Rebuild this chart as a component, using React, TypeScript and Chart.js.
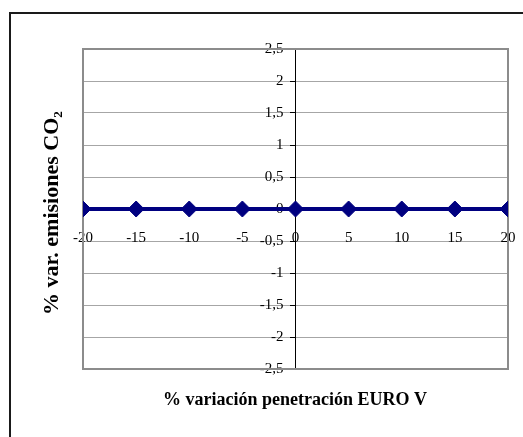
import React, { useEffect, useRef } from "react";
import { Chart, registerables } from "chart.js";

Chart.register(...registerables);

const xValues: number[] = [-20, -15, -10, -5, 0, 5, 10, 15, 20];
const yValues: number[] = [0, 0, 0, 0, 0, 0, 0, 0, 0];
const xTitle = "% variación penetración EURO V";
const yTitle = "% var. emisiones CO₂";
const yMin = -2.5;
const yMax = 2.5;
const yStep = 0.5;
const xMin = -20;
const xMax = 20;
const xStep = 5;

const SERIF = "'Liberation Serif', 'Times New Roman', serif";

// shift label items of centred axes (Chart.js puts them flush against the axis)
const LABEL_SHIFT: Record<string, [number, number]> = { x: [0, 20], y: [-12, 0] };

const decorPlugin = {
  id: "decor",
  beforeDraw(chart: any) {
    Object.keys(LABEL_SHIFT).forEach((id) => {
      const s = chart.scales[id];
      if (s && !s.__shifted) {
        const orig = s._computeLabelItems.bind(s);
        const [dx, dy] = LABEL_SHIFT[id];
        s._computeLabelItems = (ca: any) =>
          orig(ca).map((it: any) => ({
            ...it,
            options: {
              ...it.options,
              translation: [it.options.translation[0] + dx, it.options.translation[1] + dy],
            },
          }));
        s.__shifted = true;
        s._labelItems = null;
      }
    });
    const ctx = chart.ctx;
    ctx.save();
    ctx.fillStyle = "#ffffff";
    ctx.fillRect(0, 0, chart.width, chart.height);
    ctx.strokeStyle = "#1a1a1a";
    ctx.lineWidth = 2;
    ctx.strokeRect(10, 13, 800, 800);
    ctx.restore();
  },
  beforeDatasetsDraw(chart: any) {
    const ctx = chart.ctx;
    const a = chart.chartArea;
    ctx.save();
    ctx.strokeStyle = "#8c8c8c";
    ctx.lineWidth = 2;
    ctx.strokeRect(a.left, a.top, a.right - a.left, a.bottom - a.top);
    ctx.restore();
  },
  afterDraw(chart: any) {
    const ctx = chart.ctx;
    ctx.save();
    ctx.fillStyle = "#000000";
    ctx.font = `bold 18px ${SERIF}`;
    ctx.textAlign = "center";
    ctx.textBaseline = "alphabetic";
    ctx.fillText(xTitle, 295, 405);
    ctx.translate(58, 213);
    ctx.rotate(-Math.PI / 2);
    ctx.font = `bold 22px ${SERIF}`;
    ctx.fillText(yTitle, 0, 0);
    ctx.restore();
  },
};

export default function App() {
  const ref = useRef<HTMLCanvasElement | null>(null);
  useEffect(() => {
    if (!ref.current) return;
    const chart = new Chart(ref.current, {
      type: "line",
      data: {
        datasets: [
          {
            data: xValues.map((x, i) => ({ x, y: yValues[i] })),
            borderColor: "#000080",
            backgroundColor: "#000080",
            borderWidth: 4,
            pointStyle: "rectRot",
            pointRadius: 8,
            pointBorderWidth: 1,
            pointBackgroundColor: "#000080",
            pointBorderColor: "#000080",
            fill: false,
          },
        ],
      },
      options: {
        responsive: false,
        animation: false,
        devicePixelRatio: 1,
        layout: { padding: { left: 83, top: 49, right: 15, bottom: 68 } },
        plugins: { legend: { display: false }, tooltip: { enabled: false } },
        scales: {
          x: {
            type: "linear",
            position: { y: 0 } as any,
            min: xMin,
            max: xMax,
            grid: { display: false, drawTicks: false },
            border: { display: true, color: "#000000", width: 1 },
            ticks: {
              stepSize: xStep,
              padding: 0,
              color: "#000000",
              font: { family: SERIF, size: 15 },
              maxRotation: 0,
              autoSkip: false,
            },
          },
          y: {
            type: "linear",
            position: { x: 0 } as any,
            min: yMin,
            max: yMax,
            grid: {
              color: "#a6a6a6",
              lineWidth: 1,
              drawTicks: true,
              tickLength: 5,
              tickColor: "#000000",
            },
            border: { display: true, color: "#000000", width: 1 },
            ticks: {
              stepSize: yStep,
              padding: 0,
              color: "#000000",
              font: { family: SERIF, size: 15 },
              callback: (v: any) => String(Number(v)).replace(".", ","),
            },
          },
        },
      },
      plugins: [decorPlugin],
    });
    return () => chart.destroy();
  }, []);
  return (
    <div style={{ position: "fixed", left: 0, top: 0, width: 523, height: 437, overflow: "hidden", background: "#fff" }}>
      <canvas ref={ref} width={523} height={437} style={{ width: 523, height: 437, display: "block" }} />
    </div>
  );
}
